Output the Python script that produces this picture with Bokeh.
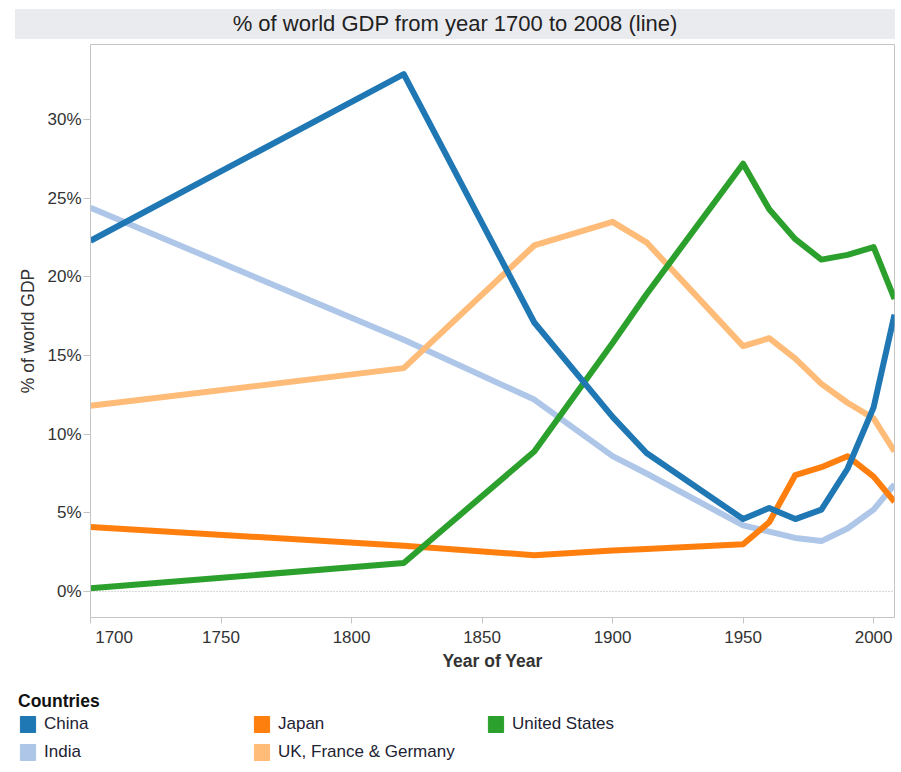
import math
from bokeh.plotting import figure
from bokeh.models import (Range1d, FixedTicker, PrintfTickFormatter, Span, Legend,
                          LegendItem, Div)
from bokeh.layouts import column
from bokeh.embed import file_html
from bokeh.resources import INLINE

years = [1700, 1820, 1870, 1900, 1913, 1950, 1960, 1970, 1980, 1990, 2000, 2008]
china = [22.3, 32.9, 17.1, 11.1, 8.8, 4.6, 5.3, 4.6, 5.2, 7.8, 11.7, 17.6]
india = [24.4, 16.0, 12.2, 8.6, 7.5, 4.2, 3.8, 3.4, 3.2, 4.0, 5.2, 6.8]
japan = [4.1, 2.9, 2.3, 2.6, 2.7, 3.0, 4.4, 7.4, 7.9, 8.6, 7.3, 5.7]
uk_fr_de = [11.8, 14.2, 22.0, 23.5, 22.2, 15.6, 16.1, 14.8, 13.2, 12.0, 11.0, 8.9]
usa = [0.2, 1.8, 8.9, 15.8, 18.9, 27.2, 24.3, 22.4, 21.1, 21.4, 21.9, 18.6]

legend_names = ["China", "India", "Japan", "UK, France & Germany", "United States"]
legend_colors = ["#1f77b4", "#aec7e8", "#ff7f0e", "#ffbb78", "#2ca02c"]
y_ticks = [0, 5, 10, 15, 20, 25, 30]
x_ticks = [1700, 1750, 1800, 1850, 1900, 1950, 2000]

FONT = "Liberation Sans"

title = Div(
    text=('<div style="margin-left:15px;width:880px;height:30px;margin-top:9px;'
          'background:#eaebef;text-align:center;line-height:30px;'
          f'font-family:\'{FONT}\',Arial,sans-serif;font-size:22px;color:#222;">'
          '% of world GDP from year 1700 to 2008 (line)</div>'),
    width=896, height=39, margin=0,
)

p = figure(width=896, height=638, output_backend="svg", toolbar_location=None,
           x_range=Range1d(1700, 2008), y_range=Range1d(-1.66, 34.78),
           min_border_left=90, min_border_right=2, min_border_top=5, min_border_bottom=60)
p.background_fill_color = "white"
p.border_fill_color = "white"
p.outline_line_color = "#c4c4c4"
p.grid.visible = False

p.xaxis.ticker = FixedTicker(ticks=x_ticks)
# first year label sits to the right of its tick, as in the original
p.xaxis.major_label_overrides = {x_ticks[0]: "\u00a0" * 10 + str(x_ticks[0])}
p.yaxis.ticker = FixedTicker(ticks=y_ticks)
p.yaxis.formatter = PrintfTickFormatter(format="%d%%")
for ax in (p.xaxis[0], p.yaxis[0]):
    ax.axis_line_color = "#c4c4c4"
    ax.major_tick_line_color = "#c4c4c4"
    ax.minor_tick_line_color = None
    ax.major_tick_in = 0
    ax.major_label_text_font = FONT
    ax.major_label_text_font_size = "17px"
    ax.major_label_text_color = "#333333"
    ax.axis_label_text_font = FONT
    ax.axis_label_text_font_size = "17.5px"
    ax.axis_label_text_color = "#333333"
p.xaxis.major_tick_out = 6
p.yaxis.major_tick_out = 7
p.xaxis.major_label_standoff = 4
p.yaxis.major_label_standoff = 2
p.xaxis.axis_label = "Year of Year"
p.xaxis.axis_label_text_font_style = "bold"
p.xaxis.axis_label_standoff = 1
p.yaxis.axis_label = "% of world GDP"
p.yaxis.axis_label_text_font_style = "normal"
p.yaxis.axis_label_standoff = 6

p.add_layout(Span(location=0, dimension="width", line_color="#aaaaaa",
                  line_dash="1 2", line_width=1))

series = {"China": china, "India": india, "Japan": japan,
          "UK, France & Germany": uk_fr_de, "United States": usa}
draw_order = ["India", "UK, France & Germany", "Japan", "United States", "China"]
for name in draw_order:
    col = legend_colors[legend_names.index(name)]
    p.line(years, series[name], line_color=col, line_width=6, line_join="round")

# legend drawn in its own borderless figure below the chart
lf = figure(width=896, height=90, output_backend="svg", toolbar_location=None,
            x_range=Range1d(0, 1), y_range=Range1d(0, 1),
            min_border_left=0, min_border_right=0, min_border_top=0, min_border_bottom=0)
lf.axis.visible = False
lf.grid.visible = False
lf.outline_line_color = None
lf.background_fill_color = "white"
lf.border_fill_color = "white"

if "frame_align" in lf.properties():
    lf.frame_align = False
    p.frame_align = False

items = []
for name, col in zip(legend_names, legend_colors):
    r = lf.rect(x=[math.nan], y=[math.nan], width=1, height=1,
                fill_color=col, line_color=col)
    items.append(LegendItem(label=name, renderers=[r]))

legend = Legend(items=items, location=(18, 5.5), orientation="vertical", nrows=2,
                title="Countries", title_text_font=FONT, title_text_font_size="17.5px",
                title_text_font_style="bold", title_text_color="#111111", title_standoff=2,
                label_text_font=FONT, label_text_font_size="17px", label_text_color="#222233",
                glyph_width=19, glyph_height=20, label_height=20, label_standoff=7,
                label_width=200, spacing=8, padding=0, margin=0,
                border_line_color=None, background_fill_alpha=0)
lf.add_layout(legend, "center")

layout = column(title, p, lf, spacing=0)
open("out.html", "w").write(file_html(layout, INLINE))
